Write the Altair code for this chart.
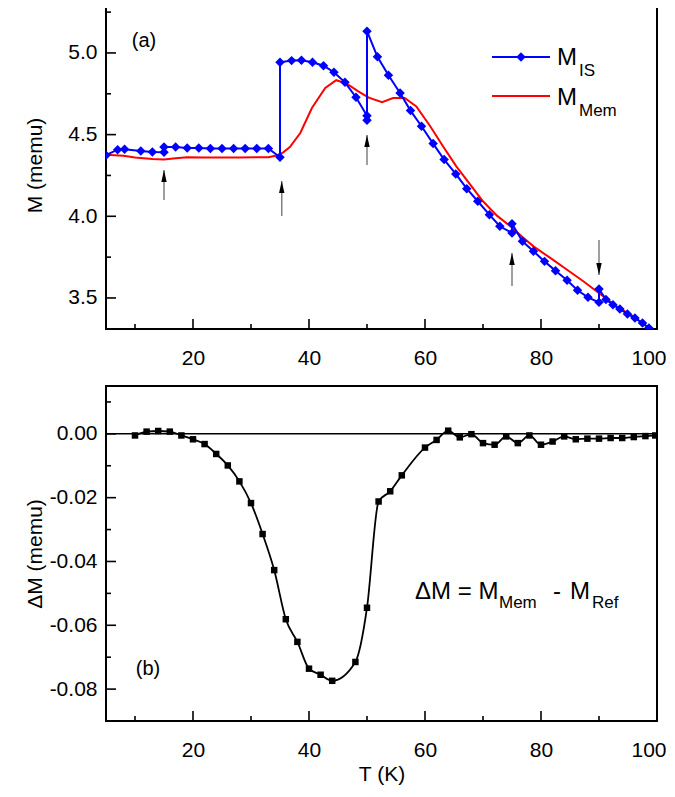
import altair as alt
import pandas as pd

# ---------------- data ----------------
T_IS = [5, 7, 8.2, 11, 13, 15, 15, 17, 19, 21, 23, 25, 27, 29, 31, 33, 35, 35, 37, 38.7,
        40.6, 42.5, 44.3, 46.2, 48.1, 50, 50, 50, 51.8, 53.7, 55.7, 57.5, 59.4, 61.4, 63.3,
        65.3, 67.2, 69.1, 71.1, 72.9, 75, 75, 76.8, 78.7, 80.6, 82.5, 84.5, 86.3, 88.1, 90,
        90, 91.2, 92.4, 93.6, 94.9, 96.2, 97.5, 98.6]
M_IS = [4.374, 4.408, 4.41, 4.40, 4.394, 4.392, 4.424, 4.424, 4.418, 4.418, 4.415, 4.415,
        4.415, 4.415, 4.415, 4.415, 4.361, 4.943, 4.953, 4.955, 4.943, 4.922, 4.882, 4.82,
        4.729, 4.616, 4.588, 5.133, 4.976, 4.863, 4.755, 4.647, 4.551, 4.445, 4.347, 4.259,
        4.169, 4.092, 4.01, 3.939, 3.898, 3.955, 3.847, 3.786, 3.724, 3.667, 3.608, 3.547,
        3.504, 3.473, 3.555, 3.49, 3.459, 3.432, 3.402, 3.377, 3.347, 3.316]

T_MEM = [5, 8, 10, 13, 15, 17, 19, 22, 25, 28, 31, 33, 34.4, 35.5, 36.7, 38.5, 40.5, 42.8,
         44.7, 46.5, 48.5, 50.3, 52.6, 54.5, 56.5, 58.5, 60.9, 63.1, 65.4, 67.8, 70, 72.4,
         74.7, 77, 78.7, 81.6, 84.5, 87.3, 90.2, 93, 95.9, 98.2, 100]
M_MEM = [4.377, 4.37, 4.36, 4.35, 4.347, 4.355, 4.361, 4.36, 4.36, 4.36, 4.361, 4.362,
         4.372, 4.39, 4.424, 4.51, 4.663, 4.786, 4.833, 4.812, 4.765, 4.726, 4.698, 4.724,
         4.724, 4.673, 4.551, 4.429, 4.306, 4.194, 4.092, 4.004, 3.939, 3.867, 3.816, 3.745,
         3.673, 3.602, 3.524, 3.449, 3.388, 3.326, 3.29]

T_DM = [10, 12, 14, 16, 18, 20, 22, 24, 26, 28, 30, 32, 34, 36, 38, 40, 42, 44, 48, 50,
        52, 54, 56, 60, 62, 64, 66, 68, 70, 72, 74, 76, 78, 80, 82, 84, 86, 88, 90, 92, 94,
        96, 98, 99.7]
DM = [-0.0005, 0.0007, 0.0009, 0.0007, -0.0005, -0.0017, -0.0032, -0.0063, -0.0099,
      -0.0149, -0.0217, -0.0314, -0.0427, -0.0581, -0.0652, -0.0736, -0.0755, -0.0774,
      -0.0715, -0.0545, -0.0212, -0.018, -0.013, -0.0043, -0.0019, 0.001, -0.0011,
      -0.0001, -0.0029, -0.0034, -0.0008, -0.0029, -0.0005, -0.0034, -0.0024, -0.0008,
      -0.0017, -0.0015, -0.0015, -0.0013, -0.0013, -0.001, -0.0007, -0.0005]

ARROW_T = [15, 35.3, 50, 75, 90]
ARROW_TAIL = [4.100, 4.002, 4.314, 3.573, 3.855]
ARROW_TIP = [4.284, 4.216, 4.498, 3.775, 3.641]
ARROW_DIR = ["up", "up", "up", "up", "down"]

X_MAJOR = [20, 40, 60, 80, 100]
X_MINOR = [10, 30, 50, 70, 90]
Y_TOP_MAJOR = [3.5, 4.0, 4.5, 5.0]
Y_TOP_MINOR = [3.75, 4.25, 4.75, 5.25]
Y_BOT_MAJOR = [-0.08, -0.06, -0.04, -0.02, 0.0]
Y_BOT_MINOR = [-0.07, -0.05, -0.03, -0.01, 0.01]

# ---------------- styling ----------------
FONT = "Liberation Sans"
BLUE = "#0000ff"
RED = "#ff0000"
W = 551
H_TOP = 328
H_BOT = 335
FS = 21
MAJ = 10
MIN = 5

xs = alt.Scale(domain=[5, 100], nice=False, zero=False)
ys_top = alt.Scale(domain=[3.31, 5.318], nice=False, zero=False)
ys_bot = alt.Scale(domain=[-0.09, 0.015], nice=False, zero=False)


def x_label_axis(title):
    kw = dict(orient="bottom", values=X_MAJOR, format="d", ticks=False, tickSize=0,
              domain=False, grid=False, labelFontSize=FS, labelFont=FONT,
              labelColor="black", labelPadding=29, labelBaseline="middle",
              labelFlush=True, labelFlushOffset=9)
    if title:
        kw.update(title=title, titleFontSize=FS, titleFont=FONT, titleFontWeight="normal",
                  titleColor="black", titleY=53, titleBaseline="middle")
    else:
        kw.update(title=None)
    return alt.Axis(**kw)


def y_label_axis(values, title, h, fmt):
    return alt.Axis(orient="left", values=values, ticks=False, tickSize=0, domain=False,
                    grid=False, labelFontSize=FS, labelFont=FONT, labelColor="black",
                    labelPadding=9,
                    labelExpr="replace(format(datum.value, '%s'), '\u2212', '-')" % fmt,
                    title=title, titleFontSize=FS, titleFont=FONT,
                    titleFontWeight="normal", titleColor="black", titleAngle=270,
                    titleX=-71, titleY=h / 2, titleAlign="center",
                    titleBaseline="middle")


AX_X_TOP = x_label_axis(None)
AX_X_BOT = x_label_axis("T (K)")
AX_Y_TOP = y_label_axis(Y_TOP_MAJOR, "M (memu)", H_TOP, ".1f")
AX_Y_BOT = y_label_axis(Y_BOT_MAJOR, "\u0394M (memu)", H_BOT, ".2f")


def one():
    return alt.Chart(pd.DataFrame({"k": [0]}))


def txt(x, y, s, size, align="left", baseline="alphabetic"):
    return one().mark_text(text=s, font=FONT, fontSize=size, align=align,
                           baseline=baseline, color="black").encode(
        x=alt.value(x), y=alt.value(y))


def inner_ticks(xmaj, xmin, ymaj, ymin, yscale, xaxis, yaxis, h):
    """Inward-pointing tick marks on the bottom and left frame edges."""
    out = []
    for vals, ln in ((xmaj, MAJ), (xmin, MIN)):
        out.append(alt.Chart(pd.DataFrame({"v": vals})).mark_rule(
            color="black", strokeWidth=1.6).encode(
            x=alt.X("v:Q", scale=xs, axis=xaxis),
            y=alt.value(h), y2=alt.value(h - ln)))
    for vals, ln in ((ymaj, MAJ), (ymin, MIN)):
        out.append(alt.Chart(pd.DataFrame({"v": vals})).mark_rule(
            color="black", strokeWidth=1.6).encode(
            y=alt.Y("v:Q", scale=yscale, axis=yaxis),
            x=alt.value(0), x2=alt.value(ln)))
    return out


# ---------------- top panel ----------------
df_is = pd.DataFrame({"T": T_IS, "M": M_IS, "i": list(range(len(T_IS)))})
df_mem = pd.DataFrame({"T": T_MEM, "M": M_MEM})
df_arr = pd.DataFrame({"T": ARROW_T, "tail": ARROW_TAIL, "tip": ARROW_TIP,
                       "dir": ARROW_DIR})

UP = "M0,0L0.45,2L-0.45,2Z"
DOWN = "M0,0L0.45,-2L-0.45,-2Z"

XT = alt.X("T:Q", scale=xs, axis=AX_X_TOP)
YT = alt.Y("M:Q", scale=ys_top, axis=AX_Y_TOP)

mem_line = alt.Chart(df_mem).mark_line(color=RED, strokeWidth=2, clip=True).encode(
    x=XT, y=YT)
is_line = alt.Chart(df_is).mark_line(color=BLUE, strokeWidth=2, clip=True).encode(
    x=XT, y=YT, order=alt.Order("i:Q"))
is_pts = alt.Chart(df_is).mark_point(shape="diamond", size=90, filled=True, color=BLUE,
                                     opacity=1, clip=True).encode(x=XT, y=YT)
arr_shaft = alt.Chart(df_arr).mark_rule(color="#7f7f7f", strokeWidth=1.5).encode(
    x=XT, y=alt.Y("tail:Q", scale=ys_top, axis=AX_Y_TOP), y2="tip:Q")
arr_head = alt.Chart(df_arr).mark_point(filled=True, color="black", opacity=1,
                                        size=144, strokeWidth=0).encode(
    x=XT,
    y=alt.Y("tip:Q", scale=ys_top, axis=AX_Y_TOP),
    shape=alt.Shape("dir:N", scale=alt.Scale(domain=["up", "down"], range=[UP, DOWN]),
                    legend=None),
)

leg_blue = one().mark_rule(color=BLUE, strokeWidth=2).encode(
    x=alt.value(386), x2=alt.value(444), y=alt.value(56))
leg_dia = one().mark_point(shape="diamond", size=90, filled=True, color=BLUE,
                           opacity=1).encode(x=alt.value(415), y=alt.value(56))
leg_red = one().mark_rule(color=RED, strokeWidth=2).encode(
    x=alt.value(386), x2=alt.value(444), y=alt.value(95))

top = alt.layer(
    mem_line, is_line, is_pts, arr_shaft, arr_head,
    *inner_ticks(X_MAJOR, X_MINOR, Y_TOP_MAJOR, Y_TOP_MINOR, ys_top,
                 AX_X_TOP, AX_Y_TOP, H_TOP),
    leg_blue, leg_dia, leg_red,
    txt(451, 64, "M", 24), txt(473, 75, "IS", 17),
    txt(451, 104, "M", 24), txt(473, 115, "Mem", 17),
    txt(38, 40, "(a)", 20, align="center", baseline="middle"),
).properties(width=W, height=H_TOP)

# ---------------- bottom panel ----------------
df_dm = pd.DataFrame({"T": T_DM, "dM": DM})

XB = alt.X("T:Q", scale=xs, axis=AX_X_BOT)
YB = alt.Y("dM:Q", scale=ys_bot, axis=AX_Y_BOT)

zero = one().mark_rule(color="black", strokeWidth=1.5).encode(
    y=alt.datum(0, scale=ys_bot, axis=AX_Y_BOT))
dm_line = alt.Chart(df_dm).mark_line(color="black", strokeWidth=1.8,
                                     interpolate="monotone", clip=True).encode(x=XB, y=YB)
dm_pts = alt.Chart(df_dm).mark_point(shape="square", size=42, filled=True, color="black",
                                     opacity=1, clip=True).encode(x=XB, y=YB)

bottom = alt.layer(
    zero, dm_line, dm_pts,
    *inner_ticks(X_MAJOR, X_MINOR, Y_BOT_MAJOR, Y_BOT_MINOR, ys_bot,
                 AX_X_BOT, AX_Y_BOT, H_BOT),
    txt(309, 213, "\u0394M = M", 24), txt(393, 222, "Mem", 17),
    txt(451, 213, "-", 24, align="center"), txt(464, 213, "M", 24),
    txt(486, 222, "Ref", 17),
    txt(42, 283, "(b)", 20, align="center", baseline="middle"),
).properties(width=W, height=H_BOT)

chart = alt.vconcat(top, bottom, spacing=16).properties(
    padding={"left": 15, "top": -8, "right": 0, "bottom": 0}
).configure(font=FONT).configure_view(stroke="black", strokeWidth=2, strokeOpacity=1)

chart.save("out.html", embed_options={"renderer": "svg", "actions": False})
